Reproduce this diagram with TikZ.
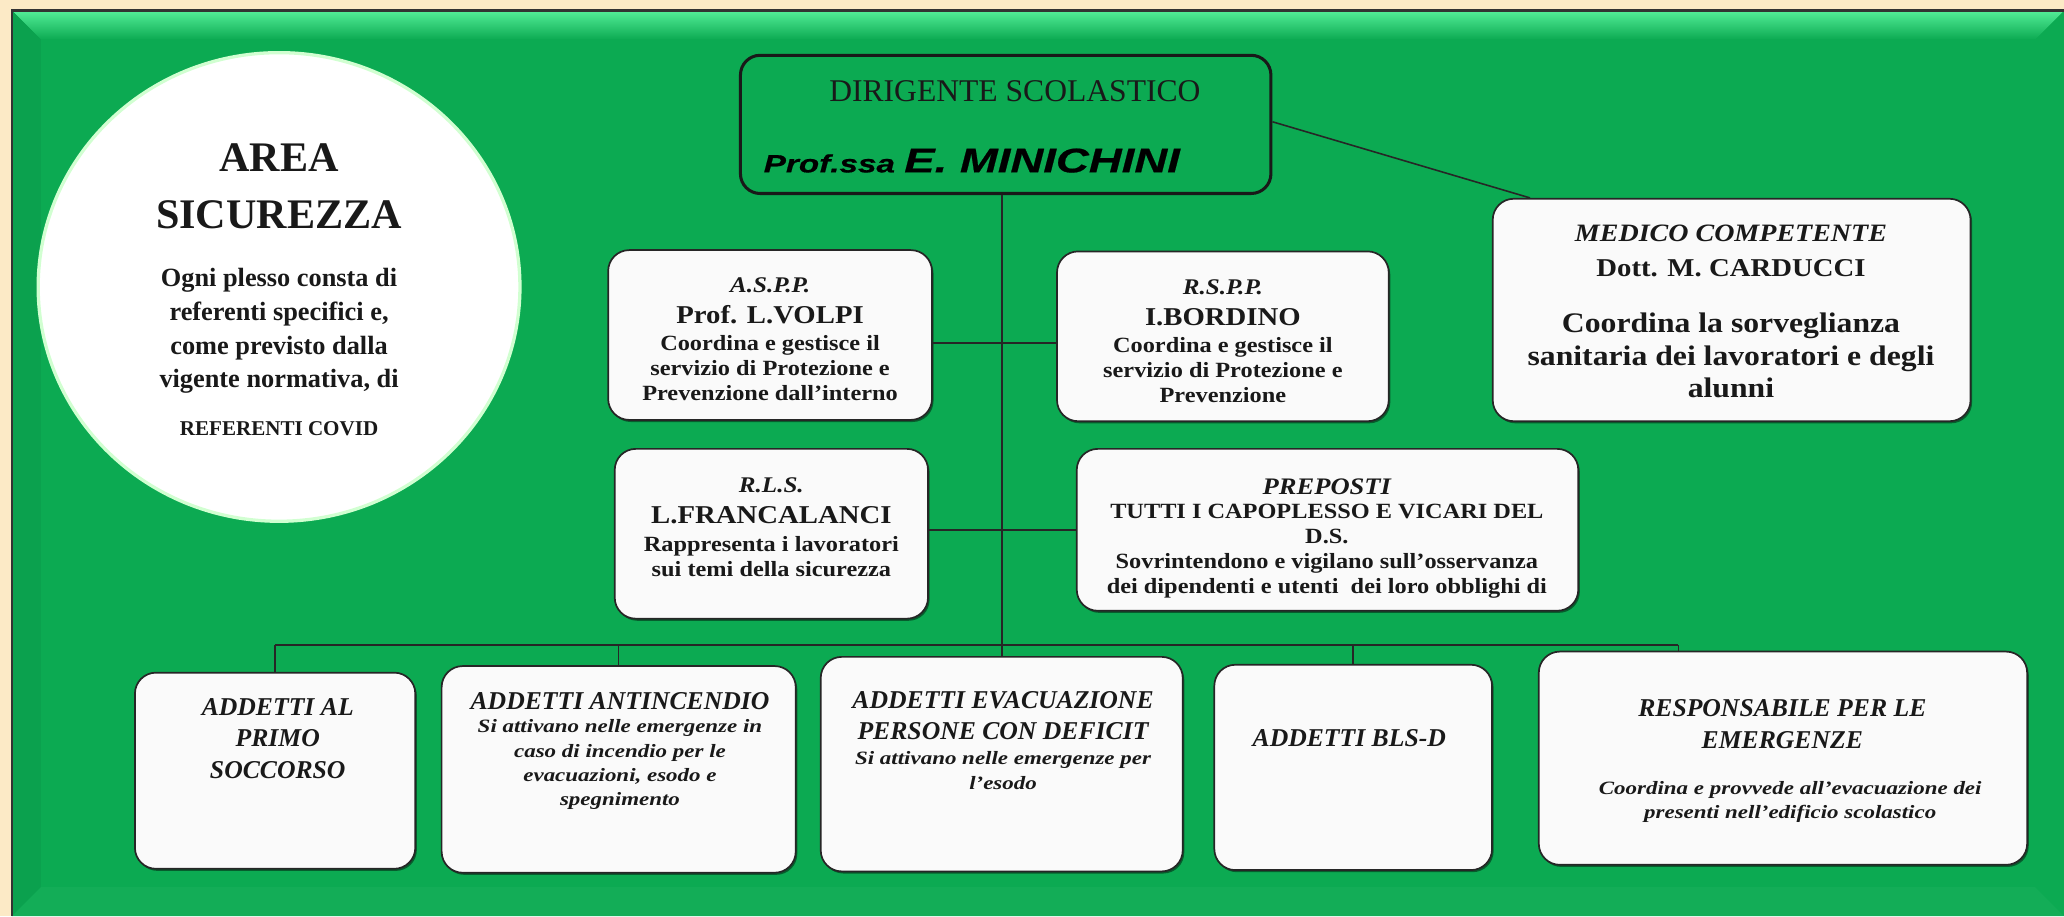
\documentclass[tikz,border=0pt]{standalone}
\usepackage{fontspec}
\setmainfont{Liberation Serif}
\newfontfamily\wserif{Liberation Serif}[FakeStretch=1.12]
\newfontfamily\xserif{Liberation Serif}[FakeStretch=1.22]
\newfontfamily\bsans{Liberation Sans}[FakeStretch=1.33, FakeBold=0.6]
\usetikzlibrary{shapes.geometric,shadows}
\definecolor{cream}{RGB}{252,234,198}
\definecolor{bggreen}{RGB}{12,170,82}
\definecolor{bevtop}{RGB}{84,238,152}
\definecolor{boxfill}{RGB}{250,250,250}
\newcommand\fsz[2]{\fontsize{#1}{#2}\selectfont}
\tikzset{
  box/.style={draw=black!85, line width=1.3pt, fill=boxfill, rounded corners=16pt, inner sep=0pt,
    drop shadow={shadow xshift=1.2pt, shadow yshift=-1.6pt, fill=black, opacity=0.45}},
  dirbox/.style={draw=black!90, line width=2.3pt, fill=bggreen, rounded corners=15pt, inner sep=0pt},
  txt/.style={inner sep=0pt, align=center, text=black!90},
  link/.style={draw=black!85, line width=1.2pt},
  ttl/.style={txt, font=\wserif\bfseries\itshape\fsz{17}{19}},
  nme/.style={txt, font=\wserif\bfseries\fsz{19.5}{21}},
  bdy/.style={txt, font=\wserif\bfseries\fsz{16.5}{18.8}},
  btl/.style={txt, font=\bfseries\itshape\fsz{19.5}{24}},
  bsub/.style={txt, font=\xserif\bfseries\itshape\fsz{14.3}{18.5}}
}
\begin{document}
\begin{tikzpicture}[x=1pt,y=-1pt]
\fill[cream] (0,0) rectangle (1568,696);
\useasboundingbox (0,0) rectangle (1568,696);
% green panel with bevel
\fill[bggreen] (9,8) rectangle (1568,696);
\shade[top color=bevtop, bottom color=bggreen] (9,8) -- (1568,8) -- (1546,30) -- (31,30) -- cycle;
\fill[bggreen!95!black] (9,8) -- (31,30) -- (31,674) -- (9,696) -- cycle;
\fill[bggreen!97!white] (9,696) -- (31,674) -- (1546,674) -- (1568,696) -- cycle;
\draw[black!80, line width=1.6pt] (9,696) -- (9,8) -- (1568,8);

% area ellipse
\node[ellipse, fill=white, draw=green!18!white, line width=2.5pt, minimum width=366pt, minimum height=356pt, inner sep=0pt] (area) at (212,218) {};
\node[txt, font=\bfseries\fsz{32}{43}] (areaT) at (212,141.5) {AREA\\SICUREZZA};
\node[txt, font=\bfseries\fsz{20}{25.5}] (areaB) at (212,251.5) {Ogni plesso consta di\\referenti specifici e,\\come previsto dalla\\vigente normativa, di};
\node[txt, font=\bfseries\fsz{16}{18}] (areaC) at (212,326) {REFERENTI COVID};

% dirigente
\node[dirbox, minimum width=403pt, minimum height=105pt] (ds) at (764,94.5) {};
\node[txt, font=\fsz{24}{26}] (dsT) at (771,69) {DIRIGENTE SCOLASTICO};
\node[inner sep=0pt, anchor=west, font=\bsans\bfseries\itshape] (dsN) at (580,122) {\fsz{19}{21}Prof.ssa \fsz{26}{28}E. MINICHINI};

% boxes
\node[box, minimum width=246pt, minimum height=129pt] (aspp) at (585,254.5) {};
\node[box, minimum width=252pt, minimum height=129pt] (rspp) at (929,255.5) {};
\node[box, minimum width=363pt, minimum height=169pt] (medico) at (1315.5,235.5) {};
\node[box, minimum width=238pt, minimum height=129pt] (rls) at (586,405.5) {};
\node[box, minimum width=381pt, minimum height=123pt] (prep) at (1008.5,402.5) {};
\node[box, minimum width=213pt, minimum height=149pt] (primo) at (209,585.5) {};
\node[box, minimum width=269pt, minimum height=157pt] (antinc) at (470,584.5) {};
\node[box, minimum width=275pt, minimum height=163pt] (evac) at (761,580.5) {};
\node[box, minimum width=211pt, minimum height=156pt] (bls) at (1028,583) {};
\node[box, minimum width=371pt, minimum height=162pt] (resp) at (1354.5,576) {};

% connectors
\coordinate (bus) at (0,490);
\coordinate (rdrop) at ([xshift=-79.5pt]resp.north);
\draw[link] (ds.south -| evac.north) -- (evac.north);
\draw[link] ([yshift=-6pt]aspp.east) -- ([yshift=-6pt]aspp.east -| rspp.west);
\draw[link] (rls.east |- prep.west) -- (prep.west);
\draw[link] ([yshift=2pt]ds.east) -- ([xshift=29pt]medico.north west);
\draw[link] (primo.north |- bus) -- (rdrop |- bus);
\draw[link] (primo.north) -- (primo.north |- bus);
\draw[link] (antinc.north) -- (antinc.north |- bus);
\draw[link] (bls.north) -- (bls.north |- bus);
\draw[link] (rdrop) -- (rdrop |- bus);

% texts
\node[ttl] (asppT) at (585,217) {A.S.P.P.};
\node[nme] (asppN) at (585,239) {Prof. L.VOLPI};
\node[bdy] (asppB) at (585,279.5) {Coordina e gestisce il\\servizio di Protezione e\\Prevenzione dall’interno};

\node[ttl] (rsppT) at (929,218) {R.S.P.P.};
\node[nme] (rsppN) at (929,241) {I.BORDINO};
\node[bdy] (rsppB) at (929,281) {Coordina e gestisce il\\servizio di Protezione e\\Prevenzione};

\node[ttl, font=\wserif\bfseries\itshape\fsz{19}{21}] (medT) at (1315,177) {MEDICO COMPETENTE};
\node[nme] (medN) at (1315,204) {Dott. M. CARDUCCI};
\node[txt, font=\wserif\bfseries\fsz{21.5}{24.5}] (medB) at (1315,270) {Coordina la sorveglianza\\sanitaria dei lavoratori e degli\\alunni};

\node[ttl] (rlsT) at (586,369) {R.L.S.};
\node[nme] (rlsN) at (586,391) {L.FRANCALANCI};
\node[bdy] (rlsB) at (586,423) {Rappresenta i lavoratori\\sui temi della sicurezza};

\node[ttl, font=\wserif\bfseries\itshape\fsz{18}{20}] (prepT) at (1008,370) {PREPOSTI};
\node[txt, font=\wserif\bfseries\fsz{16.5}{19}] (prepB) at (1008,418.5) {TUTTI I CAPOPLESSO E VICARI DEL\\D.S.\\Sovrintendono e vigilano sull’osservanza\\dei dipendenti e utenti\ \ dei loro obblighi di};

\node[btl] (primoT) at (211,561) {ADDETTI AL\\PRIMO\\SOCCORSO};
\node[btl] (antT) at (471,533) {ADDETTI ANTINCENDIO};
\node[bsub] (antB) at (471,581) {Si attivano nelle emergenze in\\caso di incendio per le\\evacuazioni, esodo e\\spegnimento};
\node[btl] (evT) at (762,543.5) {ADDETTI EVACUAZIONE\\PERSONE CON DEFICIT};
\node[bsub] (evB) at (762,585.5) {Si attivano nelle emergenze per\\l’esodo};
\node[btl] (blsT) at (1025,561) {ADDETTI BLS-D};
\node[btl] (respT) at (1354,550) {RESPONSABILE PER LE\\EMERGENZE};
\node[bsub] (respB) at (1360,609) {Coordina e provvede all’evacuazione dei\\presenti nell’edificio scolastico};
\end{tikzpicture}
\end{document}
